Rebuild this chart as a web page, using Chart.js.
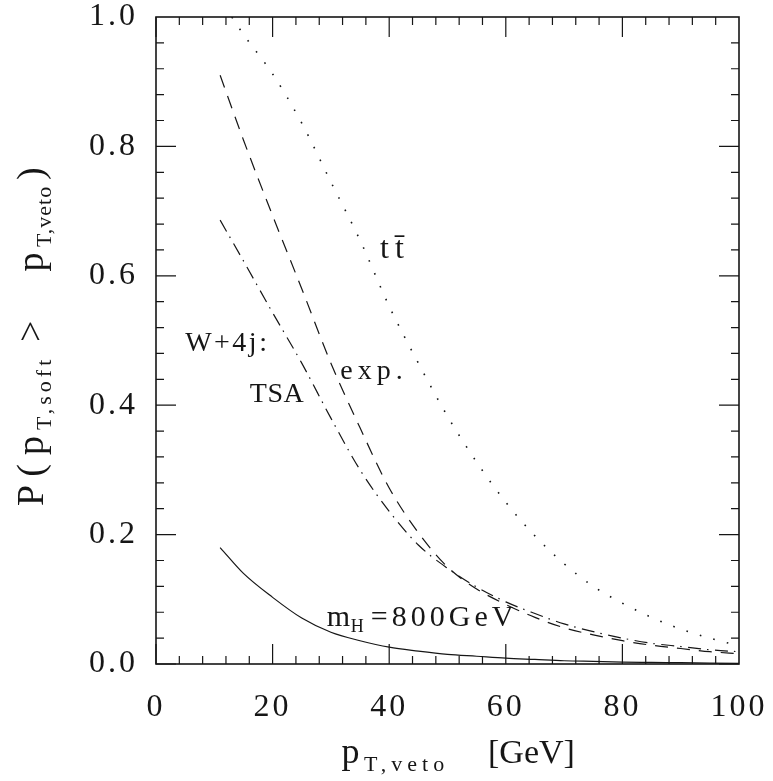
<!DOCTYPE html>
<html>
<head>
<meta charset="utf-8">
<script src="https://cdn.jsdelivr.net/npm/chart.js@4.4.1/dist/chart.umd.min.js"></script>
<style>
  html, body { margin: 0; padding: 0; background: #fff; }
  #wrap { width: 773px; height: 781px; }
</style>
</head>
<body>
<div id="wrap"><canvas id="chart" width="773" height="781"></canvas></div>
<script>
// pT,veto values (GeV) the W+4j and Higgs curves were read at
const ptVeto = [11, 15, 20, 25, 30, 35, 40, 45, 50, 55, 60, 65, 70, 75, 80, 85, 90, 95, 100];
// m_H = 800 GeV (solid)
const higgs800 = [0.180, 0.140, 0.103, 0.071, 0.049, 0.036, 0.026, 0.020, 0.015, 0.012, 0.009, 0.007, 0.005, 0.004, 0.003, 0.0025, 0.002, 0.0015, 0.001];
// W+4j, exponentiated (dashed)
const w4jExp = [0.910, 0.810, 0.693, 0.580, 0.465, 0.365, 0.272, 0.203, 0.150, 0.116, 0.092, 0.072, 0.056, 0.045, 0.036, 0.029, 0.024, 0.019, 0.016];
// W+4j, TSA (dash-dot)
const w4jTSA = [0.686, 0.623, 0.543, 0.465, 0.380, 0.300, 0.236, 0.184, 0.148, 0.119, 0.096, 0.078, 0.062, 0.050, 0.040, 0.032, 0.027, 0.022, 0.019];
// t tbar (dotted), starts where it leaves the top of the frame
const ttbarPt = [13, 15, 20, 25, 30, 35, 40, 45, 50, 55, 60, 65, 70, 75, 80, 85, 90, 95, 100];
const ttbarProb = [1.0, 0.973, 0.912, 0.836, 0.745, 0.655, 0.553, 0.465, 0.383, 0.312, 0.250, 0.198, 0.155, 0.120, 0.094, 0.072, 0.054, 0.040, 0.028];

const xTicks = [0, 20, 40, 60, 80, 100];
const xTickLabels = ['0', '20', '40', '60', '80', '100'];
const yTicks = [0, 0.2, 0.4, 0.6, 0.8, 1.0];
const yTickLabels = ['0.0', '0.2', '0.4', '0.6', '0.8', '1.0'];

const INK = '#161616';
const SERIF = "'Liberation Serif', 'DejaVu Serif', serif";

const pts = (xs, ys) => xs.map((x, i) => ({x: x, y: ys[i]}));

// plain text with extra letter spacing, the original font runs wide
function spaced(ctx, text, x0, y0, size, spacing) {
  ctx.font = size + 'px ' + SERIF;
  ctx.letterSpacing = spacing + 'px';
  ctx.fillText(text, x0, y0);
}

// one glyph per fixed-width cell
function pitched(ctx, text, x0, y0, pitch, size) {
  ctx.font = size + 'px ' + SERIF;
  ctx.letterSpacing = '0px';
  let i = 0;
  for (const ch of text) {
    const w = ctx.measureText(ch).width;
    ctx.fillText(ch, x0 + i * pitch + (pitch - w) / 2, y0);
    i++;
  }
}

// frame plus inward major/minor ticks on all four sides
const frameTicks = {
  id: 'frameTicks',
  afterDatasetsDraw(chart) {
    const {ctx, chartArea: a, scales: {x, y}} = chart;
    ctx.save();
    ctx.strokeStyle = INK;
    ctx.lineWidth = 1.2;
    ctx.beginPath();
    for (let i = 0; i < xTicks.length - 1; i++) {
      const t0 = xTicks[i], t1 = xTicks[i + 1];
      for (let k = 0; k < 5; k++) {
        const px = x.getPixelForValue(t0 + k * (t1 - t0) / 5);
        const len = k === 0 ? 20 : 8;
        ctx.moveTo(px, a.bottom); ctx.lineTo(px, a.bottom - len);
        ctx.moveTo(px, a.top); ctx.lineTo(px, a.top + len);
      }
    }
    for (let i = 0; i < yTicks.length - 1; i++) {
      const t0 = yTicks[i], t1 = yTicks[i + 1];
      for (let k = 0; k < 5; k++) {
        const py = y.getPixelForValue(t0 + k * (t1 - t0) / 5);
        const len = k === 0 ? 20 : 8;
        ctx.moveTo(a.left, py); ctx.lineTo(a.left + len, py);
        ctx.moveTo(a.right, py); ctx.lineTo(a.right - len, py);
      }
    }
    ctx.stroke();
    ctx.lineWidth = 1.6;
    ctx.strokeRect(a.left, a.top, a.right - a.left, a.bottom - a.top);
    ctx.restore();
  }
};

// axis titles with subscripts and the curve labels
const texts = {
  id: 'texts',
  beforeDraw(chart) {
    chart.ctx.letterSpacing = '3px';
  },
  afterDraw(chart) {
    const {ctx, chartArea: a, scales: {x, y}} = chart;
    ctx.save();
    ctx.fillStyle = INK;
    ctx.textAlign = 'left';
    ctx.textBaseline = 'alphabetic';

    // x title
    const xb = a.bottom + 99;
    pitched(ctx, 'p', a.left + 182, xb, 25, 36);
    spaced(ctx, 'T,veto', a.left + 208, xb + 8, 22, 5);
    spaced(ctx, '[GeV]', a.left + 332, xb, 34, 0);

    // y title, rotated
    ctx.save();
    ctx.translate(43, a.top + 491);
    ctx.rotate(-Math.PI / 2);
    pitched(ctx, 'P(p', 0, 0, 25, 38);
    spaced(ctx, 'T,soft', 78, 8, 22, 4);
    spaced(ctx, '>', 166, 0, 38, 0);
    pitched(ctx, 'p', 232, 0, 28, 38);
    spaced(ctx, 'T,veto', 261, 8, 22, 1);
    spaced(ctx, ')', 328, 0, 38, 0);
    ctx.restore();

    const at = (xv, yv) => [x.getPixelForValue(xv), y.getPixelForValue(yv)];
    let p;
    p = at(38.1, 0.628);
    spaced(ctx, 't', p[0] + 2, p[1], 32, 0);
    spaced(ctx, 't\u0304', p[0] + 17, p[1], 32, 0);

    p = at(5.0, 0.484);
    spaced(ctx, 'W+4j:', p[0], p[1], 28, 2.5);
    p = at(31.6, 0.441);
    spaced(ctx, 'exp.', p[0], p[1], 28, 5);
    p = at(16.1, 0.405);
    spaced(ctx, 'TSA', p[0], p[1], 28, 0.5);

    p = at(29.3, 0.059);
    spaced(ctx, 'm', p[0], p[1], 30, 0);
    spaced(ctx, 'H', p[0] + 24, p[1] + 6, 18, 0);
    spaced(ctx, '=800GeV', p[0] + 44, p[1], 30, 4);
    ctx.restore();
  }
};

const lineBase = {
  borderColor: INK,
  borderWidth: 1.2,
  pointRadius: 0,
  fill: false,
  cubicInterpolationMode: 'monotone',
  borderCapStyle: 'butt'
};

new Chart(document.getElementById('chart'), {
  type: 'line',
  data: {
    datasets: [
      Object.assign({}, lineBase, {label: 'mH=800GeV', data: pts(ptVeto, higgs800)}),
      Object.assign({}, lineBase, {label: 'W+4j exp.', data: pts(ptVeto, w4jExp), borderDash: [13, 9]}),
      Object.assign({}, lineBase, {label: 'W+4j TSA', data: pts(ptVeto, w4jTSA), borderDash: [13, 6, 1.5, 6.5]}),
      Object.assign({}, lineBase, {label: 'ttbar', data: pts(ttbarPt, ttbarProb), borderWidth: 1.6, borderDash: [1.6, 12.4]})
    ]
  },
  options: {
    responsive: false,
    animation: false,
    events: [],
    layout: {padding: {left: 0, right: 34, top: 17, bottom: 0}},
    plugins: {legend: {display: false}, tooltip: {enabled: false}},
    scales: {
      x: {
        type: 'linear',
        min: 0,
        max: 100,
        grid: {display: false},
        border: {display: false},
        afterBuildTicks: (scale) => { scale.ticks = xTicks.map(v => ({value: v})); },
        afterFit: (scale) => { scale.height = 117; scale.paddingLeft = 0; scale.paddingRight = 0; },
        ticks: {
          color: INK,
          padding: 20,
          maxRotation: 0,
          autoSkip: false,
          font: {family: SERIF, size: 32, lineHeight: 1},
          callback: (v) => xTickLabels[xTicks.indexOf(v)]
        }
      },
      y: {
        type: 'linear',
        min: 0,
        max: 1,
        grid: {display: false},
        border: {display: false},
        afterBuildTicks: (scale) => { scale.ticks = yTicks.map(v => ({value: v})); },
        afterFit: (scale) => { scale.width = 156; scale.paddingTop = 0; scale.paddingBottom = 0; },
        ticks: {
          color: INK,
          padding: 10,
          autoSkip: false,
          font: {family: SERIF, size: 32, lineHeight: 1},
          callback: (v) => yTickLabels[yTicks.indexOf(v)]
        }
      }
    }
  },
  plugins: [frameTicks, texts]
});
</script>
</body>
</html>
